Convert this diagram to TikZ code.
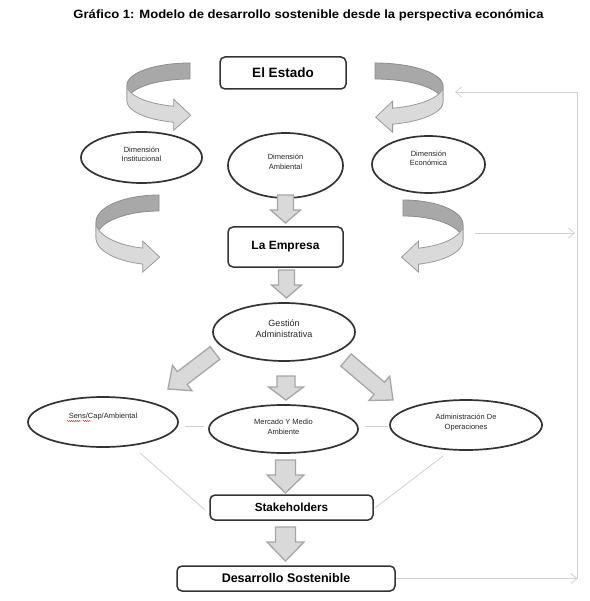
\documentclass[tikz,border=0pt]{standalone}
\usepackage{fontspec}
\setmainfont{Liberation Sans}
\usepackage{graphicx}
\usetikzlibrary{calc,arrows.meta,shapes.geometric,decorations.pathmorphing}
\definecolor{inkc}{HTML}{333333}
\definecolor{fatfill}{HTML}{D9D9D9}
\definecolor{fatdraw}{HTML}{A6A6A6}
\definecolor{ribdark}{HTML}{A8A8A8}
\definecolor{ribdarkline}{HTML}{8C8C8C}
\definecolor{riblight}{HTML}{DADADA}
\definecolor{riblightline}{HTML}{9A9A9A}
\definecolor{fbline}{HTML}{D0D0D0}

\newcommand\ribbonarrow[5]{%
 \begin{scope}[shift={(#1,#2)},xscale=#5]
  \filldraw[ribback] plot[domain=270:180,samples=30] ({#3*cos(\x)},{#4*sin(\x)})
    -- plot[domain=180:270,samples=30] ({#3*cos(\x)},{#4*sin(\x)+16}) -- cycle;
  \filldraw[ribfront] plot[domain=180:105,samples=30] ({#3*cos(\x)},{#4*sin(\x)})
    -- ({-0.2588*#3},{0.9659*#4-7}) -- ({-0.2588*#3+17},{0.9659*#4+9})
    -- ({-0.2588*#3},{0.9659*#4+24})
    -- plot[domain=105:180,samples=30] ({#3*cos(\x)},{#4*sin(\x)+16}) -- cycle;
 \end{scope}}

\newcommand\fatarrow[5]{%
 \path ($(#2)!#5pt!(#1)$) coordinate (fa-base);
 \draw[fat] ($(#1)!#3pt!90:(#2)$) -- ($(fa-base)!#3pt!90:(#2)$)
   -- ($(fa-base)!#4pt!90:(#2)$) -- (#2) -- ($(fa-base)!#4pt!-90:(#2)$)
   -- ($(fa-base)!#3pt!-90:(#2)$) -- ($(#1)!#3pt!-90:(#2)$) -- cycle;}

\begin{document}
\begin{tikzpicture}[x=1pt,y=-1pt,
  ribback/.style={fill=ribdark,draw=ribdarkline,line width=0.8pt,line join=round},
  ribfront/.style={fill=riblight,draw=riblightline,line width=0.8pt,line join=miter},
  fat/.style={fill=fatfill,draw=fatdraw,line width=1.3pt,line join=miter},
  ell/.style={ellipse,draw=inkc,line width=1.7pt,inner sep=0pt},
  etxt/.style={align=center,inner sep=0pt,text=black!85,font=\fontsize{7.5}{9.5}\selectfont},
  box/.style={rectangle,rounded corners=5pt,draw=inkc,line width=1.5pt,inner sep=0pt,font=\bfseries\fontsize{12}{14}\selectfont},
  fb/.style={draw=fbline,line width=0.8pt},
  fbtip/.style={-{Straight Barb[length=6pt,width=10pt]}}
]
\useasboundingbox (0,0) rectangle (589,601);
\fill[white] (0,0) rectangle (589,601);

% title
\node[font=\bfseries\fontsize{12}{14}\selectfont] (title) at (308.5,15)
  {\scalebox{1.09}[1]{Gráfico 1: Modelo de desarrollo sostenible desde la perspectiva económica}};

% ribbons
\ribbonarrow{190}{85}{63}{22}{1}
\ribbonarrow{375}{86}{68}{23}{-1}
\ribbonarrow{159}{222}{63}{27}{1}
\ribbonarrow{403}{224.5}{60}{24.5}{-1}

% boxes
\node[box,minimum width=126pt,minimum height=32pt,font=\bfseries\fontsize{13.5}{15}\selectfont] (estado) at (283,73) {El Estado};
\node[box,minimum width=115pt,minimum height=40pt] (empresa) at (285.5,247) {La Empresa};
\node[box,minimum width=163pt,minimum height=25pt,font=\bfseries\fontsize{11.7}{14}\selectfont] (stake) at (291.5,507.5) {Stakeholders};
\node[box,minimum width=218pt,minimum height=25pt,font=\bfseries\fontsize{12.5}{14}\selectfont] (desarrollo) at (286,578.5) {Desarrollo Sostenible};

% ellipses
\node[ell,minimum width=121pt,minimum height=51pt] (inst) at (141.5,157.5) {};
\node[etxt] (inst-t) at ([yshift=3pt]inst.center) {Dimensión\\Institucional};
\node[ell,minimum width=115pt,minimum height=65pt] (amb) at (285.5,165.5) {};
\node[etxt] (amb-t) at ([yshift=3.5pt]amb.center) {Dimensión\\Ambiental};
\node[ell,minimum width=113pt,minimum height=57pt] (eco) at (428.5,164.5) {};
\node[etxt] (eco-t) at ([yshift=6pt]eco.center) {Dimensión\\Económica};
\node[ell,minimum width=142pt,minimum height=58pt] (gest) at (284,332) {};
\node[etxt,font=\fontsize{9}{11}\selectfont] (gest-t) at ([yshift=3.5pt]gest.center) {Gestión\\Administrativa};
\node[ell,minimum width=150pt,minimum height=50pt] (sens) at (103,422) {};
\node[etxt] (sens-t) at ([yshift=5pt]sens.center) {Sens/Cap/Ambiental};
\node[ell,minimum width=149pt,minimum height=48pt] (merc) at (283.5,429) {};
\node[etxt] (merc-t) at ([yshift=2pt]merc.center) {Mercado Y Medio\\Ambiente};
\node[ell,minimum width=152pt,minimum height=50pt] (adm) at (466,425) {};
\node[etxt] (adm-t) at ([yshift=2.5pt]adm.center) {Administración De\\Operaciones};

% spell-check squiggles
\draw[red,line width=0.4pt,decorate,decoration={snake,amplitude=0.5pt,segment length=2pt}] (67,421) -- (81,421);
\draw[red,line width=0.4pt,decorate,decoration={snake,amplitude=0.5pt,segment length=2pt}] (83,421) -- (91,421);

% block arrows
\coordinate (f1a) at (285.5,195); \coordinate (f1b) at (285.5,223);
\coordinate (f2a) at (286.5,270); \coordinate (f2b) at (286.5,298);
\coordinate (f3a) at (286,376);   \coordinate (f3b) at (286,400);
\coordinate (f4a) at (285.5,460); \coordinate (f4b) at (285.5,493);
\coordinate (f5a) at (285.5,527); \coordinate (f5b) at (285.5,561);
\coordinate (f6a) at (215,353);   \coordinate (f6b) at (168,389);
\coordinate (f7a) at (346,360);   \coordinate (f7b) at (393,400);
\fatarrow{f1a}{f1b}{8}{15}{13}
\fatarrow{f2a}{f2b}{8}{15}{13}
\fatarrow{f3a}{f3b}{9}{17.5}{13}
\fatarrow{f4a}{f4b}{10}{18.5}{18}
\fatarrow{f5a}{f5b}{10}{18.5}{19}
\fatarrow{f6a}{f6b}{8}{16}{18}
\fatarrow{f7a}{f7b}{8}{16}{18}

% light connector lines
\coordinate (l1a) at (185,426); \coordinate (l1b) at (204,426);
\coordinate (l2a) at (365,426); \coordinate (l2b) at (388,426);
\coordinate (l3a) at (140,453); \coordinate (l3b) at (205,510);
\coordinate (l4a) at (443,456); \coordinate (l4b) at (375,508);
\draw[fb] (l1a) -- (l1b);
\draw[fb] (l2a) -- (l2b);
\draw[fb] (l3a) -- (l3b);
\draw[fb] (l4a) -- (l4b);

% feedback loop
\coordinate (fbA) at (577.5,578.5);
\coordinate (fbB) at (577.5,92);
\coordinate (fbC) at (455,92);
\coordinate (fbD) at (475,233);
\coordinate (fbE) at (575,233);
\draw[fb,fbtip] (desarrollo.east) -- (fbA);
\draw[fb,fbtip] (fbA) -- (fbB) -- (fbC);
\draw[fb,fbtip] (fbD) -- (fbE);
\end{tikzpicture}
\end{document}
